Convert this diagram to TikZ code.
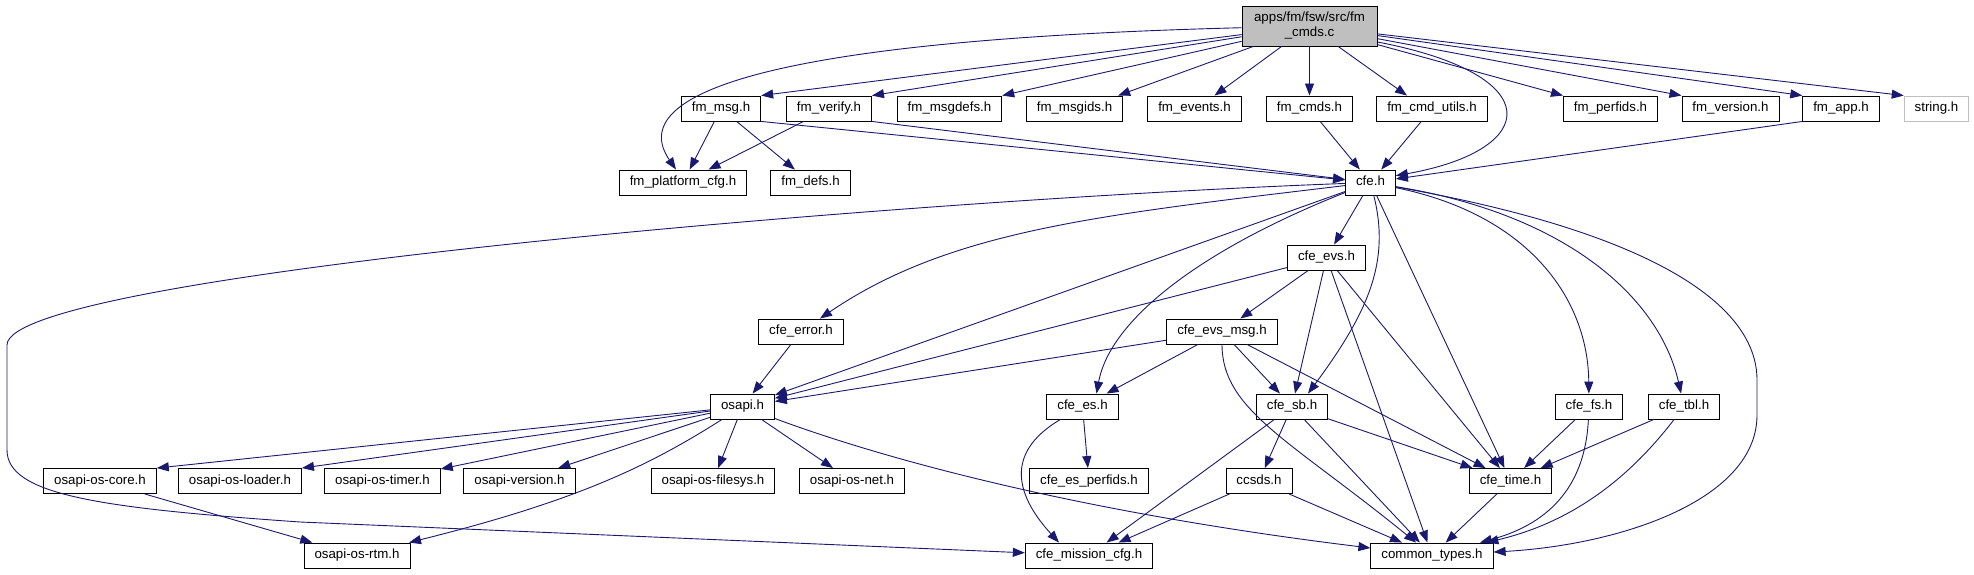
\documentclass[tikz,border=0pt]{standalone}
\usepackage{fontspec}
\setmainfont{Liberation Sans}
\usepackage{xcolor}
\usepackage{tikz}
\usetikzlibrary{arrows.meta}

\definecolor{edgeblue}{HTML}{191970}
\definecolor{rootgray}{HTML}{BFBFBF}

\begin{document}
\begin{tikzpicture}[x=1bp, y=-1bp,
    hdr/.style={draw=black, fill=white, line width=0.9bp, inner xsep=10.5bp, inner ysep=0pt,
        minimum height=25bp, text height=9.6bp, text depth=2.8bp,
        font=\fontsize{13.3bp}{15bp}\selectfont},
    rootfile/.style={draw=black, fill=rootgray, line width=0.9bp, minimum width=135bp,
        minimum height=40bp, inner sep=0pt, align=center,
        font=\fontsize{13.3bp}{15bp}\selectfont},
    dep/.style={draw=edgeblue, line width=0.9bp, -{Triangle[length=12bp,width=9bp]}}]
    \useasboundingbox (0,0) rectangle (1974,575);

    % Source file
    \node[rootfile] (root) at (1309.5,26) {apps/fm/fsw/src/fm\\\_cmds.c};

    % First level
    \node[hdr] (fmmsg) at (721,108.5) {fm\_msg.h};
    \node[hdr] (fmverify) at (829,108.5) {fm\_verify.h};
    \node[hdr] (fmmsgdefs) at (949.5,108.5) {fm\_msgdefs.h};
    \node[hdr] (fmmsgids) at (1074.5,108.5) {fm\_msgids.h};
    \node[hdr] (fmevents) at (1194.5,108.5) {fm\_events.h};
    \node[hdr] (fmcmds) at (1309.5,108.5) {fm\_cmds.h};
    \node[hdr] (fmcmdutils) at (1432,108.5) {fm\_cmd\_utils.h};
    \node[hdr] (fmperfids) at (1610.5,108.5) {fm\_perfids.h};
    \node[hdr] (fmversion) at (1730.5,108.5) {fm\_version.h};
    \node[hdr] (fmapp) at (1841,108.5) {fm\_app.h};
    \node[hdr, draw=rootgray] (stringh) at (1936.5,108.5) {string.h};

    % Second level
    \node[hdr] (fmplatform) at (683,182.5) {fm\_platform\_cfg.h};
    \node[hdr] (fmdefs) at (810.5,182.5) {fm\_defs.h};
    \node[hdr] (cfe) at (1370.5,182.5) {cfe.h};

    % cfe headers
    \node[hdr] (cfeevs) at (1326.5,257.5) {cfe\_evs.h};
    \node[hdr] (cfeerror) at (801,331.5) {cfe\_error.h};
    \node[hdr] (cfeevsmsg) at (1222,331.5) {cfe\_evs\_msg.h};
    \node[hdr] (osapi) at (742.5,406.5) {osapi.h};
    \node[hdr] (cfees) at (1082.5,406.5) {cfe\_es.h};
    \node[hdr] (cfesb) at (1292,406.5) {cfe\_sb.h};
    \node[hdr] (cfefs) at (1589,406.5) {cfe\_fs.h};
    \node[hdr] (cfetbl) at (1684,406.5) {cfe\_tbl.h};

    % osapi headers
    \node[hdr] (oscore) at (100,481) {osapi-os-core.h};
    \node[hdr] (osloader) at (240,481) {osapi-os-loader.h};
    \node[hdr] (ostimer) at (382.5,481) {osapi-os-timer.h};
    \node[hdr] (osversion) at (519.5,481) {osapi-version.h};
    \node[hdr] (osfilesys) at (713,481) {osapi-os-filesys.h};
    \node[hdr] (osnet) at (852,481) {osapi-os-net.h};
    \node[hdr] (cfeesperfids) at (1089,481) {cfe\_es\_perfids.h};
    \node[hdr] (ccsds) at (1259,481) {ccsds.h};
    \node[hdr] (cfetime) at (1510.5,481) {cfe\_time.h};

    % Bottom row
    \node[hdr] (osrtm) at (357,555.5) {osapi-os-rtm.h};
    \node[hdr] (missioncfg) at (1089,555.5) {cfe\_mission\_cfg.h};
    \node[hdr] (commontypes) at (1432,555.5) {common\_types.h};

    % From the source file
    \draw[dep] (root) .. controls (760,40) and (625,95) .. ([xshift=-7bp]fmplatform.north);
    \draw[dep] (root) -- (fmmsg.north east);
    \draw[dep] (root) -- (fmverify.north east);
    \draw[dep] (root) -- (fmmsgdefs.north east);
    \draw[dep] (root) -- ([xshift=-5bp]fmmsgids.north east);
    \draw[dep] (root) -- ([xshift=20bp]fmevents.north);
    \draw[dep] (root) -- (fmcmds);
    \draw[dep] (root) -- ([xshift=-25bp]fmcmdutils.north);
    \draw[dep] ([yshift=-16bp]root.east) .. controls (1550,75) and (1540,150) .. (cfe.15);
    \draw[dep] (root) -- (fmperfids.north west);
    \draw[dep] (root) -- (fmversion.north west);
    \draw[dep] (root) -- (fmapp.north west);
    \draw[dep] (root) -- (stringh.north west);

    % fm headers
    \draw[dep] (fmmsg) -- (fmplatform);
    \draw[dep] (fmmsg) -- (fmdefs);
    \draw[dep] (fmmsg.south east) -- (cfe);
    \draw[dep] (fmverify) -- (fmplatform);
    \draw[dep] (fmverify.south east) -- (cfe);
    \draw[dep] (fmcmds) -- (cfe);
    \draw[dep] (fmcmdutils) -- (cfe);
    \draw[dep] (fmapp.south west) -- (cfe);

    % cfe.h
    \draw[dep] (cfe) .. controls (900,200) and (7,275) .. (7,345) -- (7,450)
        .. controls (7,495) and (100,508) .. (300,522) -- (missioncfg);
    \draw[dep] (cfe) .. controls (1100,215) and (950,230) .. (cfeerror);
    \draw[dep] (cfe) -- (osapi);
    \draw[dep] (cfe) -- (cfeevs);
    \draw[dep] (cfe) .. controls (1200,250) and (1110,320) .. ([xshift=14bp]cfees.north);
    \draw[dep] (cfe) .. controls (1390,260) and (1370,310) .. ([xshift=16bp]cfesb.north);
    \draw[dep] (cfe) -- (cfetime);
    \draw[dep] (cfe) .. controls (1530,215) and (1588,300) .. (cfefs);
    \draw[dep] (cfe) .. controls (1570,215) and (1660,300) .. (cfetbl);
    \draw[dep] (cfe) .. controls (1640,230) and (1757,300) .. (1757,380) -- (1757,415)
        .. controls (1757,500) and (1620,545) .. (commontypes);

    % cfe_evs.h and cfe_evs_msg.h
    \draw[dep] (cfeevs) -- (osapi);
    \draw[dep] (cfeevs) -- (cfeevsmsg);
    \draw[dep] (cfeevs) -- (cfesb);
    \draw[dep] (cfeevs) -- (cfetime);
    \draw[dep] (cfeevs) -- (commontypes);
    \draw[dep] (cfeevsmsg) -- (osapi);
    \draw[dep] (cfeevsmsg) -- (cfees);
    \draw[dep] (cfeevsmsg) -- (cfesb);
    \draw[dep] (cfeevsmsg) -- (cfetime);
    \draw[dep] (cfeevsmsg) .. controls (1222,410) and (1290,440) .. (commontypes);
    \draw[dep] (cfeerror) -- (osapi);

    % osapi.h
    \draw[dep] (osapi) -- (oscore.north east);
    \draw[dep] (osapi) -- (osloader.north east);
    \draw[dep] (osapi) -- (ostimer);
    \draw[dep] (osapi) -- (osversion);
    \draw[dep] (osapi) -- (osfilesys);
    \draw[dep] (osapi) -- (osnet);
    \draw[dep] (osapi) .. controls (650,465) and (580,500) .. (osrtm);
    \draw[dep] (osapi) .. controls (900,465) and (1100,515) .. (commontypes);
    \draw[dep] (oscore) -- (osrtm);

    % Lower levels
    \draw[dep] (cfees) -- (cfeesperfids);
    \draw[dep] (cfees) .. controls (1000,455) and (1020,500) .. ([xshift=-30bp]missioncfg.north);
    \draw[dep] (cfesb) -- (ccsds);
    \draw[dep] (cfesb) -- (missioncfg);
    \draw[dep] (cfesb) -- (cfetime);
    \draw[dep] (cfesb) -- (commontypes);
    \draw[dep] (ccsds) -- (missioncfg);
    \draw[dep] (ccsds) -- (commontypes);
    \draw[dep] (cfetime) -- (commontypes);
    \draw[dep] (cfefs) -- (cfetime);
    \draw[dep] (cfefs) .. controls (1585,490) and (1545,525) .. (commontypes);
    \draw[dep] (cfetbl) -- (cfetime);
    \draw[dep] (cfetbl) .. controls (1620,490) and (1560,525) .. (commontypes);
\end{tikzpicture}
\end{document}
